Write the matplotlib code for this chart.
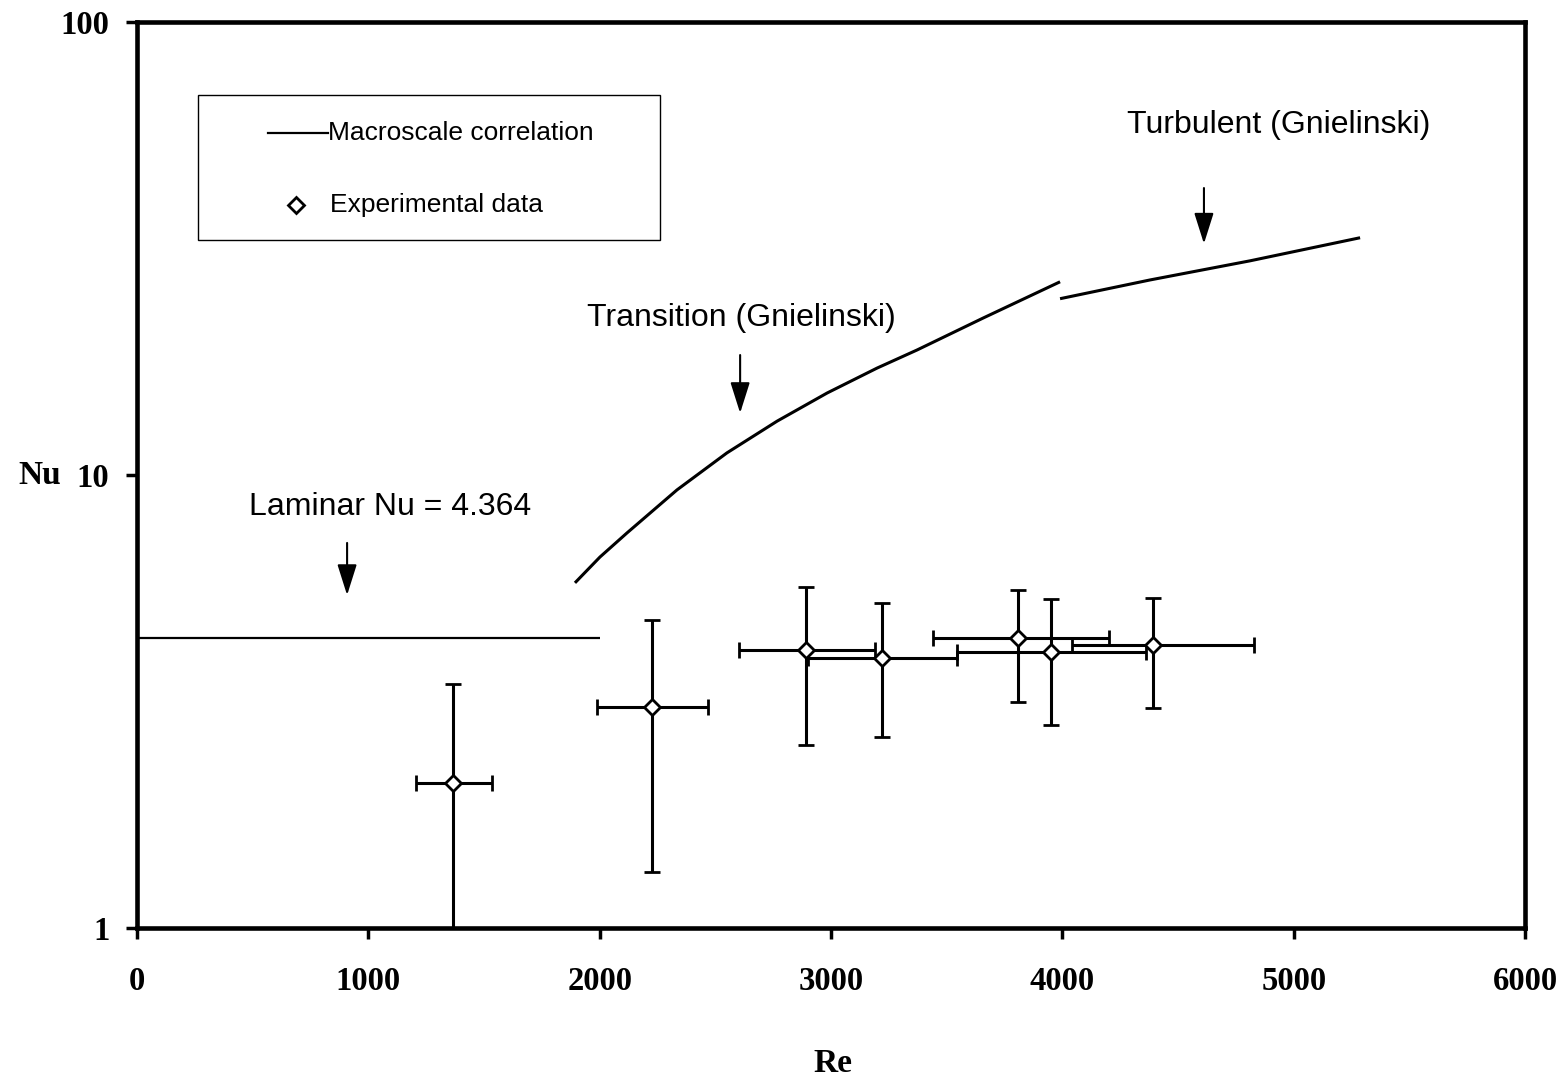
import matplotlib
matplotlib.use("Agg")
import numpy as np
import matplotlib.pyplot as plt
from matplotlib.lines import Line2D
from matplotlib.patches import Rectangle

# Macroscale correlation segments
laminar_re = [0, 2000]
laminar_nu = [4.364, 4.364]

transition_re = [1893, 2001, 2118, 2334, 2550, 2767, 2983, 3199, 3372, 3657, 3990]
transition_nu = [5.78, 6.59, 7.45, 9.27, 11.19, 13.15, 15.17, 17.22, 18.88, 22.2, 26.7]

turbulent_re = [3990, 4379, 4811, 5287]
turbulent_nu = [24.5, 26.95, 29.7, 33.4]

# Experimental data with uncertainty ranges
exp_re = [1367, 2228, 2890, 3220, 3810, 3950, 4390]
exp_nu = [2.09, 3.07, 4.11, 3.95, 4.37, 4.07, 4.21]
exp_re_lo = [1205, 1990, 2600, 2900, 3440, 3545, 4040]
exp_re_hi = [1536, 2470, 3190, 3545, 4200, 4360, 4830]
exp_nu_lo = [0.5, 1.33, 2.54, 2.64, 3.15, 2.81, 3.06]
exp_nu_hi = [3.46, 4.79, 5.66, 5.22, 5.57, 5.33, 5.35]

x_ticks = [0, 1000, 2000, 3000, 4000, 5000, 6000]
y_ticks = [1, 10, 100]

serif_family = ["Liberation Serif", "DejaVu Serif"]
sans = ["Liberation Sans", "DejaVu Sans"]

fig = plt.figure(figsize=(15.68, 10.83), dpi=100)
ax = fig.add_axes([0.0874, 0.1431, 0.8852, 0.8366])

ax.set_yscale("log")
ax.set_xlim(0, 6000)
ax.set_ylim(1, 100)

ax.plot(laminar_re, laminar_nu, color="black", lw=1.6, solid_capstyle="butt")
ax.plot(transition_re, transition_nu, color="black", lw=2.2,
        solid_capstyle="butt", solid_joinstyle="round")
ax.plot(turbulent_re, turbulent_nu, color="black", lw=2.2,
        solid_capstyle="butt", solid_joinstyle="round")

re = np.array(exp_re)
nu = np.array(exp_nu)
xerr = [re - np.array(exp_re_lo), np.array(exp_re_hi) - re]
yerr = [nu - np.array(exp_nu_lo), np.array(exp_nu_hi) - nu]
ax.errorbar(re, nu, xerr=xerr, yerr=yerr, fmt="D", ms=8.5, mfc="white",
            mec="black", mew=2, ecolor="black", elinewidth=2.2, capsize=6,
            capthick=2.2, zorder=3)

# Region labels and arrows
arrow_style = "-|>,head_length=0.95,head_width=0.3"
arrow_kw = dict(arrowstyle=arrow_style, lw=1.5, color="black",
                mutation_scale=20, shrinkA=0, shrinkB=0)
ax.text(484, 8.5, "Laminar Nu = 4.364", family=sans, size=23, va="center", ha="left")
ax.annotate("", xy=(908, 5.43), xytext=(908, 7.08), arrowprops=arrow_kw)
ax.text(1945, 22.2, "Transition (Gnielinski)", family=sans, size=23, va="center", ha="left")
ax.annotate("", xy=(2607, 13.7), xytext=(2607, 18.4), arrowprops=arrow_kw)
ax.text(4280, 59.3, "Turbulent (Gnielinski)", family=sans, size=23, va="center", ha="left")
ax.annotate("", xy=(4612, 32.4), xytext=(4612, 43.0), arrowprops=arrow_kw)

# Legend box
ax.add_patch(Rectangle((0.0439, 0.7594), 0.3329, 0.16, transform=ax.transAxes,
                       facecolor="white", edgecolor="black", lw=1.0, zorder=4))
ax.add_line(Line2D([0.0944, 0.1376], [0.8775, 0.8775], transform=ax.transAxes,
                   color="black", lw=1.6, zorder=5))
ax.add_line(Line2D([0.1146], [0.798], transform=ax.transAxes, marker="D", ms=8.5,
                   mfc="white", mec="black", mew=2, ls="none", zorder=5))
ax.text(0.1376, 0.8775, "Macroscale correlation", transform=ax.transAxes,
        family=sans, size=19, va="center", ha="left", zorder=6)
ax.text(0.1390, 0.798, "Experimental data", transform=ax.transAxes,
        family=sans, size=19, va="center", ha="left", zorder=6)

# Axes styling
for s in ax.spines.values():
    s.set_linewidth(3.3)
    s.set_color("black")

ax.set_xticks(x_ticks)
ax.set_xticklabels([str(t) for t in x_ticks])
ax.set_yticks(y_ticks)
ax.set_yticklabels([str(t) for t in y_ticks])
ax.yaxis.set_minor_locator(matplotlib.ticker.NullLocator())
ax.tick_params(axis="x", which="major", direction="out", length=8, width=2.5, pad=19)
ax.tick_params(axis="y", which="major", direction="out", length=8, width=2.5, pad=12)
for lab in ax.get_xticklabels() + ax.get_yticklabels():
    lab.set_fontfamily(serif_family)
    lab.set_fontweight("bold")
    lab.set_fontsize(23.5)

ax.set_xlabel("Re", family=serif_family, weight="bold", size=24)
ax.xaxis.set_label_coords(0.5014, -0.149)
ax.xaxis.label.set_va("center")
ax.set_ylabel("Nu", rotation=0, family=serif_family, weight="bold", size=24)
ax.yaxis.set_label_coords(-0.0705, 0.5)
ax.yaxis.label.set_va("center")
ax.yaxis.label.set_ha("center")

fig.savefig("out.png", dpi=100, facecolor="white")
